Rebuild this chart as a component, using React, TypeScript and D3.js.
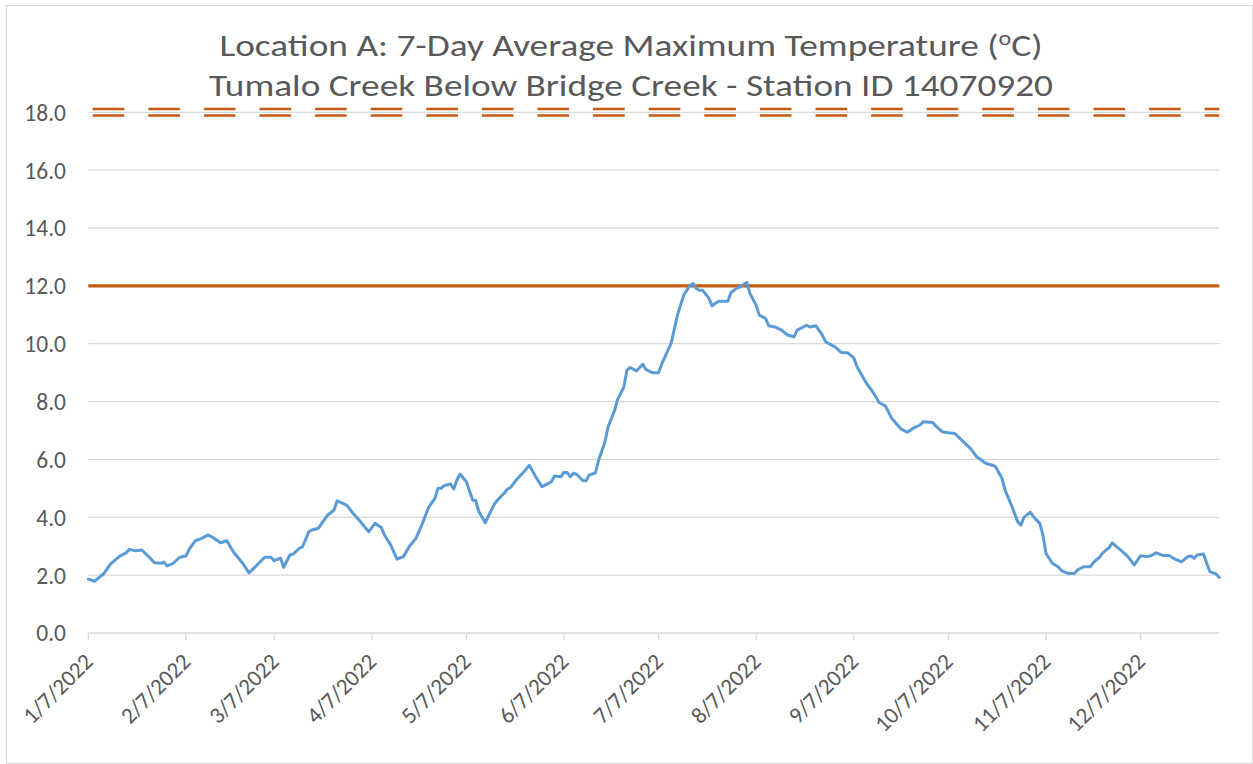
import React from "react";
import * as d3 from "d3";

const TITLE_LINE_1 = "Location A: 7-Day Average Maximum Temperature (";
const TITLE_LINE_2 = "Tumalo Creek Below Bridge Creek - Station ID 14070920";

const dates: string[] = [
  "2022-01-07","2022-01-09","2022-01-12","2022-01-14","2022-01-17","2022-01-19","2022-01-20","2022-01-22","2022-01-24","2022-01-26",
  "2022-01-28","2022-01-30","2022-01-31","2022-02-01","2022-02-03","2022-02-05","2022-02-07","2022-02-08","2022-02-10","2022-02-12",
  "2022-02-14","2022-02-16","2022-02-18","2022-02-20","2022-02-22","2022-02-25","2022-02-27","2022-03-01","2022-03-04","2022-03-06",
  "2022-03-07","2022-03-09","2022-03-10","2022-03-12","2022-03-13","2022-03-15","2022-03-16","2022-03-18","2022-03-19","2022-03-21",
  "2022-03-24","2022-03-26","2022-03-27","2022-03-30","2022-04-01","2022-04-03","2022-04-06","2022-04-08","2022-04-10","2022-04-11",
  "2022-04-13","2022-04-15","2022-04-17","2022-04-19","2022-04-21","2022-04-23","2022-04-25","2022-04-27","2022-04-28","2022-04-29",
  "2022-04-30","2022-05-02","2022-05-03","2022-05-04","2022-05-05","2022-05-07","2022-05-09","2022-05-10","2022-05-11","2022-05-13",
  "2022-05-14","2022-05-16","2022-05-18","2022-05-19","2022-05-20","2022-05-21","2022-05-23","2022-05-25","2022-05-27","2022-05-28",
  "2022-05-29","2022-05-31","2022-06-01","2022-06-03","2022-06-04","2022-06-06","2022-06-07","2022-06-08","2022-06-09","2022-06-10",
  "2022-06-11","2022-06-13","2022-06-14","2022-06-15","2022-06-17","2022-06-18","2022-06-20","2022-06-21","2022-06-23","2022-06-24",
  "2022-06-26","2022-06-27","2022-06-28","2022-06-30","2022-07-02","2022-07-03","2022-07-05","2022-07-07","2022-07-08","2022-07-10",
  "2022-07-11","2022-07-13","2022-07-15","2022-07-17","2022-07-18","2022-07-19","2022-07-20","2022-07-21","2022-07-23","2022-07-24",
  "2022-07-26","2022-07-29","2022-07-30","2022-08-01","2022-08-02","2022-08-04","2022-08-05","2022-08-07","2022-08-08","2022-08-10",
  "2022-08-11","2022-08-13","2022-08-15","2022-08-17","2022-08-19","2022-08-20","2022-08-23","2022-08-24","2022-08-26","2022-08-28",
  "2022-08-29","2022-09-01","2022-09-03","2022-09-05","2022-09-07","2022-09-08","2022-09-11","2022-09-13","2022-09-15","2022-09-17",
  "2022-09-19","2022-09-22","2022-09-24","2022-09-26","2022-09-28","2022-09-29","2022-10-02","2022-10-03","2022-10-05","2022-10-07",
  "2022-10-09","2022-10-11","2022-10-14","2022-10-16","2022-10-19","2022-10-21","2022-10-22","2022-10-24","2022-10-25","2022-10-27",
  "2022-10-29","2022-10-30","2022-10-31","2022-11-02","2022-11-03","2022-11-05","2022-11-06","2022-11-07","2022-11-09","2022-11-11",
  "2022-11-12","2022-11-14","2022-11-16","2022-11-17","2022-11-19","2022-11-21","2022-11-22","2022-11-24","2022-11-25","2022-11-27",
  "2022-11-28","2022-11-29","2022-12-01","2022-12-03","2022-12-05","2022-12-07","2022-12-09","2022-12-10","2022-12-12","2022-12-14",
  "2022-12-16","2022-12-18","2022-12-20","2022-12-22","2022-12-23","2022-12-24","2022-12-25","2022-12-27","2022-12-28","2022-12-29",
  "2022-12-31","2023-01-01"
];

const values: number[] = [
  1.86,1.79,2.06,2.38,2.66,2.77,2.89,2.84,2.87,2.66,
  2.43,2.41,2.45,2.32,2.41,2.62,2.66,2.89,3.19,3.27,
  3.39,3.27,3.12,3.19,2.81,2.41,2.08,2.29,2.62,2.62,
  2.50,2.59,2.27,2.70,2.73,2.93,2.98,3.50,3.56,3.62,
  4.08,4.25,4.57,4.42,4.14,3.90,3.50,3.79,3.65,3.39,
  3.04,2.55,2.64,3.01,3.27,3.77,4.34,4.65,5.00,5.00,
  5.10,5.15,4.98,5.29,5.49,5.23,4.60,4.57,4.19,3.81,
  4.04,4.48,4.73,4.83,4.97,5.03,5.31,5.54,5.80,5.60,
  5.40,5.06,5.11,5.23,5.43,5.40,5.56,5.55,5.40,5.52,
  5.49,5.26,5.26,5.46,5.54,5.98,6.61,7.13,7.68,8.07,
  8.51,9.09,9.18,9.06,9.29,9.11,9.00,9.00,9.29,9.78,
  10.01,10.99,11.68,12.02,12.08,11.91,11.85,11.85,11.57,11.31,
  11.47,11.47,11.77,11.93,11.97,12.12,11.74,11.33,10.99,10.87,
  10.62,10.58,10.47,10.30,10.24,10.47,10.64,10.58,10.62,10.30,
  10.07,9.89,9.70,9.69,9.51,9.20,8.63,8.34,7.97,7.85,
  7.42,7.05,6.94,7.09,7.19,7.30,7.28,7.16,6.96,6.92,
  6.90,6.69,6.38,6.09,5.86,5.80,5.75,5.35,4.94,4.42,
  3.85,3.73,4.00,4.18,4.02,3.79,3.39,2.75,2.41,2.27,
  2.15,2.06,2.06,2.18,2.29,2.29,2.43,2.62,2.77,2.95,
  3.12,3.02,2.84,2.64,2.35,2.67,2.64,2.66,2.77,2.68,
  2.68,2.55,2.46,2.64,2.66,2.58,2.70,2.73,2.41,2.12,
  2.04,1.92
];

const tickDates: string[] = [
  "2022-01-07","2022-02-07","2022-03-07","2022-04-07","2022-05-07","2022-06-07",
  "2022-07-07","2022-08-07","2022-09-07","2022-10-07","2022-11-07","2022-12-07"
];
const tickLabels: string[] = [
  "1/7/2022","2/7/2022","3/7/2022","4/7/2022","5/7/2022","6/7/2022",
  "7/7/2022","8/7/2022","9/7/2022","10/7/2022","11/7/2022","12/7/2022"
];
const yTicks: number[] = [0, 2, 4, 6, 8, 10, 12, 14, 16, 18];
const axisStart = "2022-01-07";
const axisEnd = "2023-01-01";
const criterionSolid = 12;
const criterionDashed = 18;

const W = 1253;
const H = 764;
const M = { left: 88.3, right: 1219.3, top: 112.3, bottom: 633 };
const FONT = "Calibri, Carlito, Lato, 'Open Sans', sans-serif";
const TEXT = "#595959";
const GRID = "#D9D9D9";
const ORANGE = "#C55A11";
const BLUE = "#5B9BD5";

export default function App() {
  const parse = d3.timeParse("%Y-%m-%d");
  const x = d3.scaleTime().domain([parse(axisStart)!, parse(axisEnd)!]).range([M.left, M.right]);
  const y = d3.scaleLinear().domain([0, 18]).range([M.bottom, M.top]);
  const pts: [Date, number][] = dates.map((d, i) => [parse(d)!, values[i]]);
  const line = d3
    .line<[Date, number]>()
    .x((d) => x(d[0]))
    .y((d) => y(d[1]))
    .curve(d3.curveLinear);
  const fmt = d3.format(".1f");
  const y18 = y(criterionDashed);

  return (
    <svg
      width={W}
      height={H}
      style={{ position: "absolute", left: 0, top: 0, background: "#fff" }}
      fontFamily={FONT}
    >
      <rect x={0} y={0} width={W} height={H} fill="#fff" />
      <rect x={6.5} y={5.5} width={1246} height={758} fill="none" stroke={GRID} strokeWidth={1} />

      {/* title */}
      <text x={631} y={56} textAnchor="middle" fontSize={31} fill={TEXT} textLength={823} lengthAdjust="spacingAndGlyphs">
        {TITLE_LINE_1}
        <tspan fontSize={20} dy={-11}>o</tspan>
        <tspan dy={11}>C)</tspan>
      </text>
      <text x={631} y={96} textAnchor="middle" fontSize={31} fill={TEXT} textLength={844} lengthAdjust="spacingAndGlyphs">
        {TITLE_LINE_2}
      </text>

      {/* gridlines */}
      {yTicks.map((t) => (
        <line key={"g" + t} x1={M.left} x2={M.right} y1={y(t)} y2={y(t)} stroke={GRID} strokeWidth={1.3} />
      ))}
      {/* y labels */}
      {yTicks.map((t) => (
        <text key={"yl" + t} x={66} y={y(t)} dy="0.36em" textAnchor="end" fontSize={23.5} fill={TEXT}>
          {fmt(t)}
        </text>
      ))}
      {/* x ticks */}
      {tickDates.map((d) => (
        <line key={"t" + d} x1={x(parse(d)!)} x2={x(parse(d)!)} y1={M.bottom} y2={M.bottom + 7} stroke={GRID} strokeWidth={1.3} />
      ))}
      {tickDates.map((d, i) => {
        const tx = x(parse(d)!) + 6;
        const ty = 663;
        return (
          <text key={"xl" + d} x={tx} y={ty} textAnchor="end" fontSize={23} fill={TEXT} transform={`rotate(-45 ${tx} ${ty})`}>
            {tickLabels[i]}
          </text>
        );
      })}

      {/* criterion 18 dashed double line */}
      {[-3.2, 3.2].map((o) => (
        <line
          key={"c18" + o}
          x1={M.left}
          x2={M.right}
          y1={y18 + o}
          y2={y18 + o}
          stroke={ORANGE}
          strokeWidth={2.5}
          strokeDasharray="31.6 24"
          strokeDashoffset={51.2}
        />
      ))}
      {/* criterion 12 solid line */}
      <line x1={M.left} x2={M.right} y1={y(criterionSolid)} y2={y(criterionSolid)} stroke={ORANGE} strokeWidth={3.2} />

      {/* data */}
      <path d={line(pts) || ""} fill="none" stroke={BLUE} strokeWidth={3} strokeLinejoin="round" strokeLinecap="round" />
    </svg>
  );
}
